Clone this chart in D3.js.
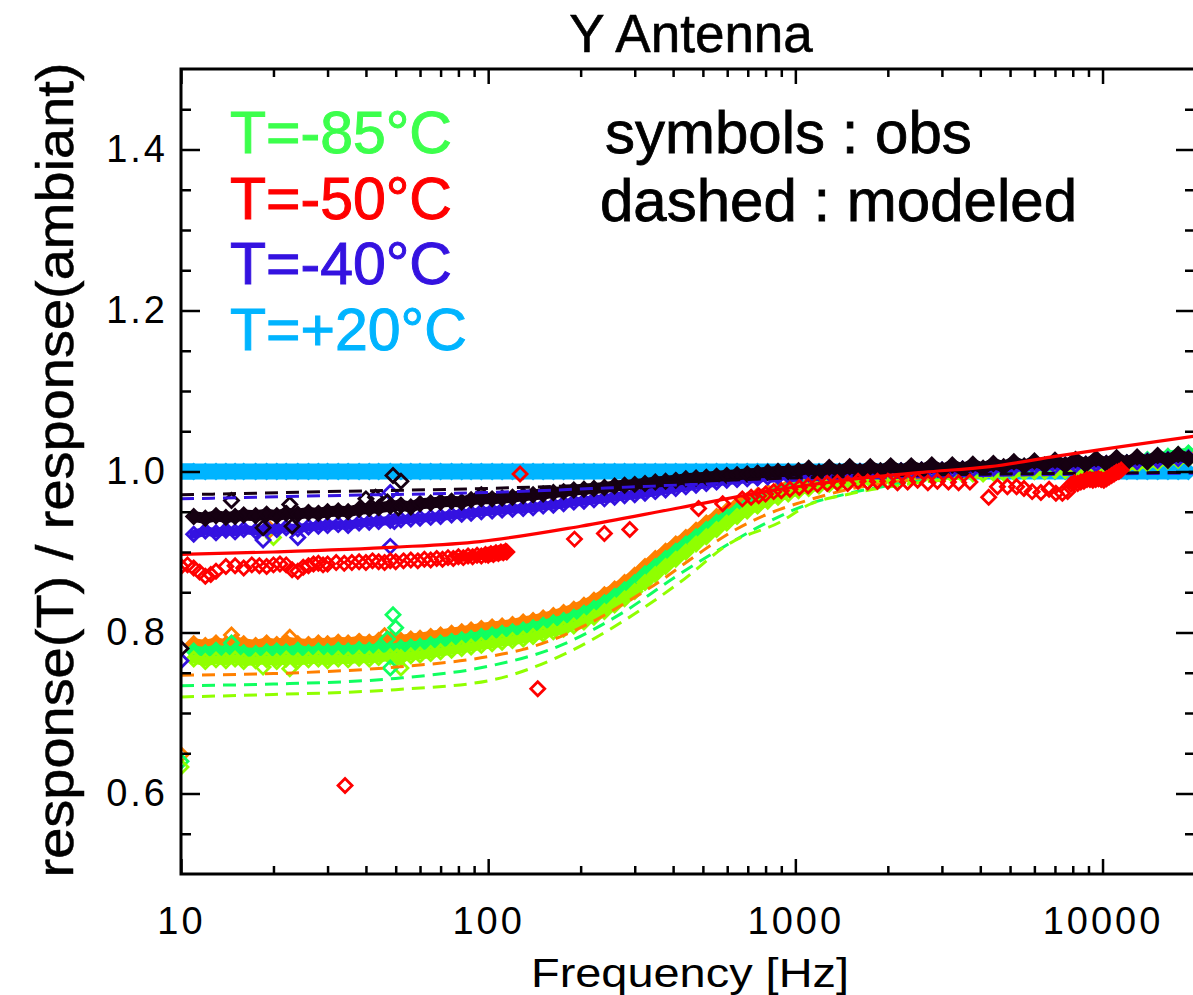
<!DOCTYPE html>
<html lang="en">
<head>
<meta charset="utf-8">
<title>Y Antenna</title>
<script src="https://cdn.jsdelivr.net/npm/d3@7"></script>
<style>
  body { margin: 0; background: #fff; }
  text { font-family: "Liberation Sans", Arial, Helvetica, sans-serif; fill: #000; }
</style>
</head>
<body>
<script>

// frequency grid of the observed runs (Hz)
var freqs = [10, 11, 12, 13, 14, 15, 16, 17.5, 19, 20.5,
  22, 24, 26, 28, 30, 32.5, 35, 38, 41, 44,
  48, 52, 56, 60, 65, 70, 76, 82, 88, 95,
  103, 111, 120, 130, 140, 151, 163, 176, 190, 205,
  221, 239, 258, 278, 300, 324, 350, 378, 408, 440,
  475, 513, 554, 598, 646, 697, 753, 813, 878, 948,
  1024, 1105, 1194, 1289, 1392, 1503, 1623, 1753, 1893, 2044,
  2208, 2384, 2575, 2781, 3003, 3243, 3503, 3783, 4085, 4412,
  4765, 5146, 5558, 6003, 6483, 7002, 7561, 8166, 8820, 9525,
  10287, 11110, 12000, 12960, 13996, 15116, 16325, 17631, 19042];

// observed ratios on that grid
var obsAmbient = [1.000, 1.000, 1.000, 1.000, 1.000, 1.000, 1.000, 1.000, 1.000, 1.000,
  1.000, 1.000, 1.000, 1.000, 1.000, 1.000, 1.000, 1.000, 1.000, 1.000,
  1.000, 1.000, 1.000, 1.000, 1.000, 1.000, 1.000, 1.000, 1.000, 1.000,
  1.000, 1.000, 1.000, 1.000, 1.000, 1.000, 1.000, 1.000, 1.000, 1.000,
  1.000, 1.000, 1.000, 1.000, 1.000, 1.000, 1.000, 1.000, 1.000, 1.000,
  1.000, 1.000, 1.000, 1.000, 1.000, 1.000, 1.000, 1.000, 1.000, 1.000,
  1.000, 1.000, 1.000, 1.000, 1.000, 1.000, 1.000, 1.000, 1.000, 1.000,
  1.000, 1.000, 1.000, 1.000, 1.000, 1.000, 1.000, 1.000, 1.000, 1.000,
  1.000, 1.000, 1.000, 1.000, 1.000, 1.000, 1.000, 1.000, 1.000, 1.000,
  1.000, 1.000, 1.000, 1.000, 1.000, 1.000, 1.000, 1.000, 1.000];

var obsOrange = [0.648, 0.786, 0.784, 0.787, 0.785, 0.788, 0.786, 0.784, 0.787, 0.785,
  0.788, 0.786, 0.785, 0.787, 0.786, 0.788, 0.787, 0.789, 0.788, 0.790,
  0.791, 0.790, 0.792, 0.793, 0.795, 0.797, 0.799, 0.801, 0.803, 0.805,
  0.807, 0.808, 0.810, 0.813, 0.815, 0.818, 0.821, 0.825, 0.829, 0.834,
  0.840, 0.847, 0.854, 0.862, 0.871, 0.882, 0.892, 0.901, 0.910, 0.918,
  0.927, 0.936, 0.944, 0.951, 0.958, 0.964, 0.970, 0.974, 0.978, 0.981,
  0.984, 0.987, 0.989, 0.990, 0.992, 0.993, 0.994, 0.995, 0.995, 0.996,
  0.996, 0.997, 0.997, 0.998, 0.998, 0.998, 0.999, 0.999, 0.999, 1.000,
  1.000, 1.000, 1.001, 1.001, 1.002, 1.002, 1.003, 1.004, 1.005, 1.006,
  1.007, 1.008, 1.010, 1.011, 1.013, 1.015, 1.016, 1.018, 1.020];

var obsGreen = [0.640, 0.777, 0.775, 0.778, 0.776, 0.777, 0.775, 0.774, 0.776, 0.777,
  0.776, 0.778, 0.775, 0.777, 0.776, 0.778, 0.777, 0.779, 0.778, 0.780,
  0.779, 0.781, 0.782, 0.783, 0.785, 0.787, 0.789, 0.791, 0.793, 0.795,
  0.797, 0.799, 0.801, 0.803, 0.806, 0.809, 0.812, 0.815, 0.819, 0.824,
  0.830, 0.837, 0.845, 0.853, 0.862, 0.873, 0.882, 0.892, 0.901, 0.910,
  0.919, 0.928, 0.937, 0.944, 0.951, 0.958, 0.964, 0.969, 0.974, 0.978,
  0.981, 0.984, 0.986, 0.988, 0.990, 0.991, 0.992, 0.993, 0.994, 0.995,
  0.995, 0.996, 0.996, 0.997, 0.997, 0.998, 0.998, 0.999, 0.999, 1.000,
  1.000, 1.001, 1.001, 1.002, 1.002, 1.003, 1.004, 1.005, 1.006, 1.007,
  1.008, 1.010, 1.011, 1.013, 1.015, 1.017, 1.019, 1.021, 1.023];

var obsYellowGreen = [0.633, 0.767, 0.764, 0.766, 0.765, 0.767, 0.764, 0.765, 0.766, 0.764,
  0.767, 0.765, 0.766, 0.767, 0.765, 0.767, 0.766, 0.768, 0.767, 0.769,
  0.770, 0.769, 0.771, 0.772, 0.774, 0.776, 0.778, 0.780, 0.782, 0.784,
  0.786, 0.788, 0.790, 0.792, 0.795, 0.798, 0.801, 0.804, 0.808, 0.813,
  0.819, 0.826, 0.834, 0.842, 0.851, 0.862, 0.872, 0.882, 0.891, 0.900,
  0.910, 0.919, 0.928, 0.936, 0.944, 0.951, 0.957, 0.963, 0.968, 0.972,
  0.976, 0.979, 0.982, 0.984, 0.986, 0.988, 0.989, 0.990, 0.991, 0.992,
  0.993, 0.993, 0.994, 0.995, 0.995, 0.996, 0.996, 0.997, 0.997, 0.998,
  0.998, 0.999, 0.999, 1.000, 1.000, 1.001, 1.001, 1.002, 1.003, 1.004,
  1.005, 1.006, 1.007, 1.008, 1.010, 1.011, 1.013, 1.014, 1.016];

var obsBlue = [0.765, 0.922, 0.926, 0.924, 0.927, 0.925, 0.928, 0.926, 0.929, 0.928,
  0.930, 0.929, 0.931, 0.932, 0.933, 0.934, 0.933, 0.936, 0.937, 0.938,
  0.939, 0.940, 0.941, 0.942, 0.943, 0.944, 0.946, 0.947, 0.948, 0.950,
  0.951, 0.952, 0.953, 0.954, 0.955, 0.957, 0.958, 0.960, 0.962, 0.963,
  0.965, 0.966, 0.968, 0.970, 0.971, 0.973, 0.975, 0.977, 0.979, 0.981,
  0.983, 0.985, 0.987, 0.989, 0.990, 0.991, 0.992, 0.993, 0.994, 0.995,
  0.996, 0.997, 0.998, 0.998, 0.999, 0.999, 1.000, 1.000, 1.000, 1.001,
  1.001, 1.001, 1.002, 1.002, 1.002, 1.002, 1.003, 1.003, 1.003, 1.004,
  1.005, 1.005, 1.006, 1.006, 1.007, 1.007, 1.008, 1.008, 1.009, 1.009,
  1.010, 1.011, 1.011, 1.012, 1.013, 1.014, 1.015, 1.016, 1.017];

var obsBlack = [0.780, 0.944, 0.942, 0.945, 0.943, 0.944, 0.946, 0.945, 0.947, 0.945,
  0.948, 0.947, 0.949, 0.948, 0.950, 0.951, 0.950, 0.953, 0.954, 0.955,
  0.957, 0.958, 0.956, 0.960, 0.961, 0.962, 0.963, 0.962, 0.965, 0.966,
  0.966, 0.967, 0.968, 0.970, 0.971, 0.972, 0.974, 0.975, 0.977, 0.978,
  0.979, 0.980, 0.982, 0.983, 0.984, 0.985, 0.987, 0.988, 0.989, 0.991,
  0.992, 0.993, 0.994, 0.995, 0.996, 0.997, 0.998, 0.999, 1.000, 1.000,
  1.001, 1.004, 0.999, 1.005, 1.000, 1.006, 1.000, 1.006, 1.001, 1.007,
  1.001, 1.007, 1.002, 1.008, 1.002, 1.008, 1.003, 1.009, 1.004, 1.010,
  1.006, 1.012, 1.007, 1.013, 1.008, 1.014, 1.008, 1.015, 1.009, 1.016,
  1.010, 1.017, 1.011, 1.018, 1.012, 1.020, 1.014, 1.021, 1.016];

// scattered points off the bands [freq, ratio]
var outOrange = [[14.6, 0.797], [22.6, 0.794], [19.5, 0.928], [46, 0.796]];
var outGreen = [[14.6, 0.787], [49, 0.822], [50, 0.806], [48, 0.756], [47, 0.792]];
var outYellowGreen = [[18.5, 0.757], [22.6, 0.755], [52, 0.756], [20, 0.918], [50.5, 0.770]];
var outBlue = [[18.5, 0.915], [24, 0.918], [48, 0.907], [48, 0.974], [49.5, 0.938]];
var outBlack = [[14.6, 0.964], [18.5, 0.930], [22.6, 0.959], [23, 0.932], [40, 0.966],
  [43, 0.968], [49, 0.995], [52, 0.988], [51, 0.955], [95, 0.971], [47, 0.962]];

// T=-50 run, own frequencies [freq, ratio]
var obsRedLow = [[10, 0.882], [10.5, 0.884], [11, 0.880], [11.5, 0.875], [12, 0.870], [12.5, 0.872],
  [13, 0.876], [14, 0.882], [15, 0.883], [16, 0.880], [17, 0.884], [18, 0.883], [19, 0.882],
  [20, 0.884], [21, 0.885], [22, 0.884], [23, 0.878], [24, 0.876], [25, 0.881], [26, 0.883],
  [27, 0.885], [28, 0.886], [29, 0.884], [30, 0.885], [32, 0.887], [34, 0.886], [36, 0.887],
  [38, 0.888], [40, 0.887], [42, 0.889], [44, 0.888], [46, 0.887], [48, 0.889], [50, 0.888],
  [53, 0.889], [56, 0.890], [59, 0.889], [62, 0.891], [65, 0.890], [68, 0.892], [71, 0.891],
  [74, 0.893], [77, 0.892], [80, 0.894], [83, 0.893], [86, 0.895], [89, 0.894], [92, 0.896],
  [95, 0.895], [98, 0.897], [100, 0.896], [102, 0.898], [104, 0.897], [106, 0.899], [108, 0.898],
  [110, 0.900], [112, 0.899], [114, 0.901], [115, 0.900]];
var obsRedSparse = [[34.2, 0.610], [127, 0.997], [145, 0.730], [191, 0.916], [239, 0.923], [289, 0.928],
  [484, 0.954], [580, 0.960], [672, 0.966], [718, 0.968], [760, 0.970], [800, 0.972],
  [850, 0.975], [900, 0.976], [960, 0.978], [1030, 0.980], [1100, 0.982], [1180, 0.984],
  [1270, 0.985], [1370, 0.986], [1480, 0.985], [1600, 0.988], [1720, 0.987], [1850, 0.988],
  [2000, 0.988], [2150, 0.986], [2320, 0.987], [2500, 0.989], [2700, 0.986], [2900, 0.988],
  [3150, 0.987], [3400, 0.986], [3700, 0.987], [4260, 0.968], [4550, 0.981], [4900, 0.981],
  [5250, 0.981], [5550, 0.979], [5900, 0.975], [6300, 0.974], [6700, 0.978], [7050, 0.973],
  [7400, 0.973], [7700, 0.975]];
var obsRedHigh = [[7900, 0.984], [8100, 0.986], [8300, 0.985], [8500, 0.987],
  [8700, 0.988], [8900, 0.990], [9100, 0.990], [9300, 0.989], [9500, 0.990], [9700, 0.991],
  [9900, 0.990], [10100, 0.989], [10300, 0.991], [10500, 0.993], [10700, 0.995], [10900, 0.997],
  [11100, 0.999], [11300, 1.000], [11500, 1.002]];

// modeled curves [freq, ratio]
var modelOrange = [[10, 0.747], [20, 0.749], [50, 0.757], [100, 0.770], [130, 0.779], [210, 0.810],
  [275, 0.835], [360, 0.863], [480, 0.897], [640, 0.928], [890, 0.953], [1030, 0.961],
  [1500, 0.978], [2200, 0.988], [3500, 0.995], [6000, 1.000], [10000, 1.007], [20000, 1.024]];
var modelGreen = [[10, 0.734], [20, 0.736], [50, 0.743], [100, 0.758], [170, 0.783], [275, 0.825],
  [410, 0.870], [565, 0.903], [785, 0.934], [1060, 0.957], [1500, 0.973], [2200, 0.985],
  [3500, 0.994], [6000, 1.000], [10000, 1.009], [20000, 1.027]];
var modelYellowGreen = [[10, 0.720], [20, 0.723], [50, 0.729], [100, 0.740], [170, 0.770],
  [275, 0.814], [420, 0.862], [620, 0.912], [890, 0.937], [1110, 0.959], [1500, 0.972],
  [2200, 0.983], [3500, 0.992], [6000, 0.999], [10000, 1.007], [20000, 1.025]];
var modelBlack = [[10, 0.971], [30, 0.975], [100, 0.979], [300, 0.985], [1000, 0.992],
  [3000, 0.996], [10000, 0.998], [20000, 0.999]];
var modelBlue = [[10, 0.966], [30, 0.970], [100, 0.974], [300, 0.981], [1000, 0.989],
  [3000, 0.994], [10000, 0.997], [20000, 0.998]];
var modelRed = [[10, 0.897], [20, 0.900], [50, 0.906], [94, 0.913], [200, 0.932], [420, 0.955],
  [890, 0.978], [1500, 0.990], [2600, 0.999], [4300, 1.006], [7100, 1.019], [11500, 1.031],
  [20000, 1.044]];

// legend and axes
var legendLabels = ["T=-85\u00b0C", "T=-50\u00b0C", "T=-40\u00b0C", "T=+20\u00b0C"];
var legendColors = ["#3cff4c", "#ff0000", "#3412e0", "#00b4ff"];
var noteLabels = ["symbols : obs", "dashed : modeled"];
var xMajor = [10, 100, 1000, 10000];
var xMinor = [20, 30, 40, 50, 60, 70, 80, 90, 200, 300, 400, 500, 600, 700, 800, 900,
  2000, 3000, 4000, 5000, 6000, 7000, 8000, 9000];
var yMajor = [0.6, 0.8, 1.0, 1.2, 1.4];
var yMinor = [0.55, 0.65, 0.7, 0.75, 0.85, 0.9, 0.95, 1.05, 1.1, 1.15, 1.25, 1.3, 1.35, 1.45];

var W = 1193, H = 995;
var L = 181, R = 1195, T = 69, B = 874;

var svg = d3.select("body").append("svg")
  .attr("width", W)
  .attr("height", H);

var x = d3.scaleLog().domain([10, 20000]).range([L, R]);
var y = d3.scaleLinear().domain([0.5, 1.5]).range([B, T]);

svg.append("clipPath").attr("id", "plotclip")
  .append("rect").attr("x", L).attr("y", T).attr("width", R - L).attr("height", B - T);

var plot = svg.append("g").attr("clip-path", "url(#plotclip)");

// square diamond, IDL style
var r = 7;
var diamond = "M0," + (-r) + "L" + r + ",0L0," + r + "L" + (-r) + ",0Z";

function zip(vals) {
  return freqs.map(function(f, i) { return [f, vals[i]]; });
}

function drawPoints(data, color, filled) {
  plot.append("g").selectAll("path")
    .data(data)
    .join("path")
    .attr("d", diamond)
    .attr("transform", function(d) { return "translate(" + x(d[0]) + "," + y(d[1]) + ")"; })
    .attr("fill", filled ? color : "none")
    .attr("stroke", color)
    .attr("stroke-width", 2.8);
}

// the symbols are so dense that they merge into a band; the band is painted
// under them along the same values
function drawBand(data, color, width) {
  plot.append("path")
    .datum(data)
    .attr("d", d3.line().x(function(d) { return x(d[0]); }).y(function(d) { return y(d[1]); }))
    .attr("fill", "none")
    .attr("stroke", color)
    .attr("stroke-width", width)
    .attr("stroke-linejoin", "round")
    .attr("stroke-linecap", "round");
}

var line = d3.line()
  .x(function(d) { return x(d[0]); })
  .y(function(d) { return y(d[1]); })
  .curve(d3.curveMonotoneX);

function drawModel(data, color, dashed) {
  plot.append("path")
    .datum(data)
    .attr("d", line)
    .attr("fill", "none")
    .attr("stroke", color)
    .attr("stroke-width", dashed ? 3 : 3.2)
    .attr("stroke-dasharray", dashed ? "13,8" : null);
}

// draw order like the original overplots
plot.append("path")
  .datum(zip(obsAmbient))
  .attr("d", d3.area()
    .x(function(d) { return x(d[0]); })
    .y0(function(d) { return y(d[1]) + 8; })
    .y1(function(d) { return y(d[1]) - 8; }))
  .attr("fill", "#00b4ff");
plot.append("rect").attr("x", L).attr("width", 12)
  .attr("y", y(1) - 8).attr("height", 16).attr("fill", "#00b4ff");
drawPoints(zip(obsAmbient), "#00b4ff", true);

drawBand(zip(obsOrange).slice(1), "#ff8000", 11);
drawPoints(zip(obsOrange), "#ff8000");
drawBand(zip(obsGreen).slice(1), "#10ff60", 11);
drawPoints(zip(obsGreen), "#10ff60");
drawBand(zip(obsYellowGreen).slice(1), "#90ff00", 9);
drawPoints(zip(obsYellowGreen), "#90ff00");
drawPoints(outOrange, "#ff8000");
drawPoints(outYellowGreen, "#90ff00");
drawPoints(outGreen, "#10ff60");
drawModel(modelOrange, "#ff8000", true);
drawModel(modelGreen, "#10ff60", true);
drawModel(modelYellowGreen, "#90ff00", true);
drawBand(zip(obsBlue).slice(1), "#3412e0", 9);
drawPoints(zip(obsBlue), "#3412e0");
drawPoints(outBlue, "#3412e0");
drawBand(zip(obsBlack).slice(1), "#160012", 11);
drawPoints(zip(obsBlack), "#160012");
drawPoints(outBlack, "#160012");
drawModel(modelBlue, "#3412e0", true);
drawModel(modelBlack, "#160012", true);
drawBand(obsRedLow.filter(function(d) { return d[0] >= 80; }), "#ff0000", 8);
drawBand(obsRedHigh, "#ff0000", 9);
drawPoints(obsRedLow, "#ff0000");
drawPoints(obsRedSparse, "#ff0000");
drawPoints(obsRedHigh, "#ff0000");
drawModel(modelRed, "#ff0000", false);

// axes: ticks point inwards on all four sides
function styleAxis(g) {
  g.select(".domain").remove();
  g.selectAll(".tick line").attr("stroke", "#000").attr("stroke-width", 2.5);
}

svg.append("g").attr("transform", "translate(0," + B + ")")
  .call(d3.axisBottom(x).tickValues(xMajor).tickSize(-15).tickPadding(33).tickFormat(d3.format("d")))
  .call(styleAxis)
  .selectAll("text").attr("font-size", 38).attr("letter-spacing", 3)
  .attr("font-family", "Liberation Sans, Arial, sans-serif").attr("fill", "#000");
svg.append("g").attr("transform", "translate(0," + B + ")")
  .call(d3.axisBottom(x).tickValues(xMinor).tickSize(-8).tickFormat(""))
  .call(styleAxis);
svg.append("g").attr("transform", "translate(0," + T + ")")
  .call(d3.axisTop(x).tickValues(xMajor).tickSize(-15).tickFormat(""))
  .call(styleAxis);
svg.append("g").attr("transform", "translate(0," + T + ")")
  .call(d3.axisTop(x).tickValues(xMinor).tickSize(-8).tickFormat(""))
  .call(styleAxis);

svg.append("g").attr("transform", "translate(" + L + ",0)")
  .call(d3.axisLeft(y).tickValues(yMajor).tickSize(-19).tickPadding(13).tickFormat(d3.format(".1f")))
  .call(styleAxis)
  .selectAll("text").attr("font-size", 38).attr("letter-spacing", 3)
  .attr("font-family", "Liberation Sans, Arial, sans-serif").attr("fill", "#000");
svg.append("g").attr("transform", "translate(" + L + ",0)")
  .call(d3.axisLeft(y).tickValues(yMinor).tickSize(-10).tickFormat(""))
  .call(styleAxis);
svg.append("g").attr("transform", "translate(" + R + ",0)")
  .call(d3.axisRight(y).tickValues(yMajor).tickSize(-19).tickFormat(""))
  .call(styleAxis);
svg.append("g").attr("transform", "translate(" + R + ",0)")
  .call(d3.axisRight(y).tickValues(yMinor).tickSize(-10).tickFormat(""))
  .call(styleAxis);

// frame
svg.append("rect")
  .attr("x", L).attr("y", T).attr("width", R - L).attr("height", B - T)
  .attr("fill", "none").attr("stroke", "#000").attr("stroke-width", 3);

// title and axis titles
svg.append("text")
  .attr("x", 691).attr("y", 52)
  .attr("text-anchor", "middle").attr("font-size", 53)
  .attr("stroke", "#000").attr("stroke-width", 0.6)
  .text("Y Antenna");

svg.append("text")
  .attr("x", 690).attr("y", 987)
  .attr("text-anchor", "middle")
  .attr("font-family", "DejaVu Sans, sans-serif")
  .attr("font-size", 41)
  .attr("textLength", 318).attr("lengthAdjust", "spacingAndGlyphs")
  .text("Frequency [Hz]");

svg.append("text")
  .attr("transform", "translate(73,470) rotate(-90)")
  .attr("text-anchor", "middle").attr("font-size", 52)
  .attr("stroke", "#000").attr("stroke-width", 0.5)
  .attr("textLength", 815).attr("lengthAdjust", "spacingAndGlyphs")
  .text("response(T) / response(ambiant)");

// legend
svg.append("g").selectAll("text")
  .data(legendLabels)
  .join("text")
  .attr("x", 230)
  .attr("y", function(d, i) { return 153 + i * 65.5; })
  .attr("font-size", 59)
  .attr("stroke-width", 1)
  .style("fill", function(d, i) { return legendColors[i]; })
  .style("stroke", function(d, i) { return legendColors[i]; })
  .text(function(d) { return d; });

svg.append("g").selectAll("text")
  .data(noteLabels)
  .join("text")
  .attr("x", function(d, i) { return i == 0 ? 605 : 600; })
  .attr("y", function(d, i) { return 153 + i * 68; })
  .attr("font-size", 60)
  .attr("stroke", "#000").attr("stroke-width", 0.8)
  .text(function(d) { return d; });

</script>
</body>
</html>
